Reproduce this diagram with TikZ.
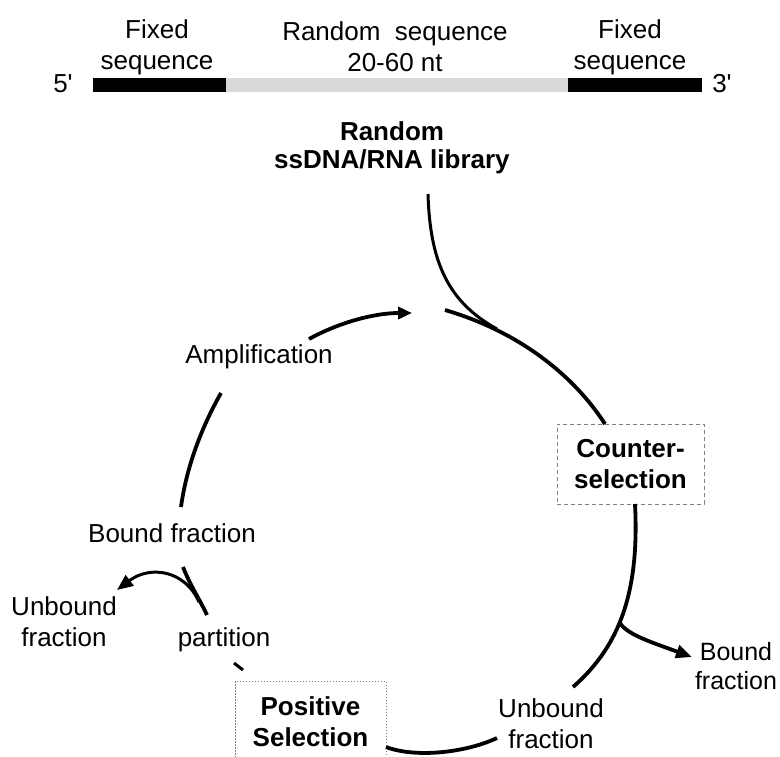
\documentclass[tikz,border=0pt]{standalone}
\usepackage{fontspec}
\setmainfont{Liberation Sans}
\usetikzlibrary{arrows.meta}

\definecolor{seqgray}{RGB}{217,217,217}
\definecolor{tipblue}{RGB}{28,48,110}

\begin{document}
\begin{tikzpicture}[x=1pt, y=-1pt,
		label text/.style = {font=\fontsize{26}{31}\selectfont, align=center, inner sep=0pt},
		step text/.style = {font=\fontsize{26}{31}\selectfont\bfseries, align=center, inner sep=0pt},
		cycle line/.style = {line width=3.8pt},
		feed line/.style = {line width=3pt},
		frac tip/.style = {-{Triangle[length=16pt, width=13pt]}},
		amp tip/.style = {-{Triangle[length=14pt, width=12pt, fill=tipblue]}}]
		\useasboundingbox (0,0) rectangle (780,756);
		\clip (0,0) rectangle (780,756);
		
		% sequence bar
		\fill (93,78) rectangle (226,92);
		\fill [seqgray] (226,78) rectangle (568,92);
		\fill (568,78) rectangle (702,92);
		\node [label text] (five) at (63,84) {5\textquotesingle};
		\node [label text] (three) at (722,84) {3\textquotesingle};
		\node [label text] (fixL) at (157,47) {Fixed\\sequence};
		\node [label text] (randSeq) at (395,47) {Random\ \ sequence\\20-60 nt};
		\node [label text] (fixR) at (630,47) {Fixed\\sequence};
		
		\node [step text, font=\fontsize{26}{28}\selectfont\bfseries] (lib) at (392,148) {Random\\ssDNA/RNA library};
		
		% steps of the cycle
		\node [step text, draw=gray, line width=0.8pt, dash pattern=on 4pt off 3pt,
			minimum width=147pt, minimum height=80pt] (counter) at (630.5,464) {Counter-\\selection};
		\node [step text, draw=gray, line width=0.8pt, dash pattern=on 1.5pt off 1.5pt,
			minimum width=151pt, minimum height=82pt] (positive) at (310.5,722) {Positive\\Selection};
		\node [label text] (unboundB) at (551,724) {Unbound\\fraction};
		\node [label text, font=\fontsize{25}{29}\selectfont] (boundR) at (736,666) {Bound\\fraction};
		\node [label text] (part) at (224,640) {partition};
		\node [label text] (unboundL) at (64,622) {Unbound\\fraction};
		\node [label text] (boundL) at (172,533) {Bound fraction};
		\node [label text] (ampl) at (259,357) {Amplification};
		
		% connector ends
		\coordinate (libTop) at (428,194);
		\coordinate (libJoin) at (497,329);
		\coordinate (topStart) at (445,310);
		\coordinate (counterTop) at (605,424);
		\coordinate (counterBot) at (635,504);
		\coordinate (rightEnd) at (573,687);
		\coordinate (rightFork) at (619,622);
		\coordinate (bottomRight) at (497,738);
		\coordinate (bottomLeft) at (386,747);
		\coordinate (leftLow) at (207,615);
		\coordinate (leftHigh) at (183,567);
		\coordinate (leftFork) at (199,602);
		\coordinate (arcLow) at (181,507);
		\coordinate (arcHigh) at (221,393);
		\coordinate (ampStart) at (309,339);
		\coordinate (ampEnd) at (412,313);
		
		\draw [feed line] (libTop) .. controls (430,262) and (448,302) .. (libJoin);
		\draw [cycle line] (topStart) .. controls (530,335) and (580,385) .. (counterTop);
		\draw [cycle line] (counterBot) .. controls (640,600) and (615,650) .. (rightEnd);
		\draw [cycle line, frac tip] (rightFork) .. controls (627,634) and (645,640) .. (692,657);
		\draw [cycle line] (bottomRight) .. controls (465,753) and (415,758) .. (bottomLeft);
		\draw [feed line] (234,663) -- (243,670);
		\draw [cycle line] (leftLow) .. controls (200,600) and (190,585) .. (leftHigh);
		\draw [feed line, frac tip] (leftFork) .. controls (185,570) and (150,565) .. (117,590);
		\draw [cycle line] (arcLow) .. controls (186,470) and (200,430) .. (arcHigh);
		\draw [cycle line, amp tip] (ampStart) .. controls (340,322) and (375,313) .. (ampEnd);
	\end{tikzpicture}
\end{document}
